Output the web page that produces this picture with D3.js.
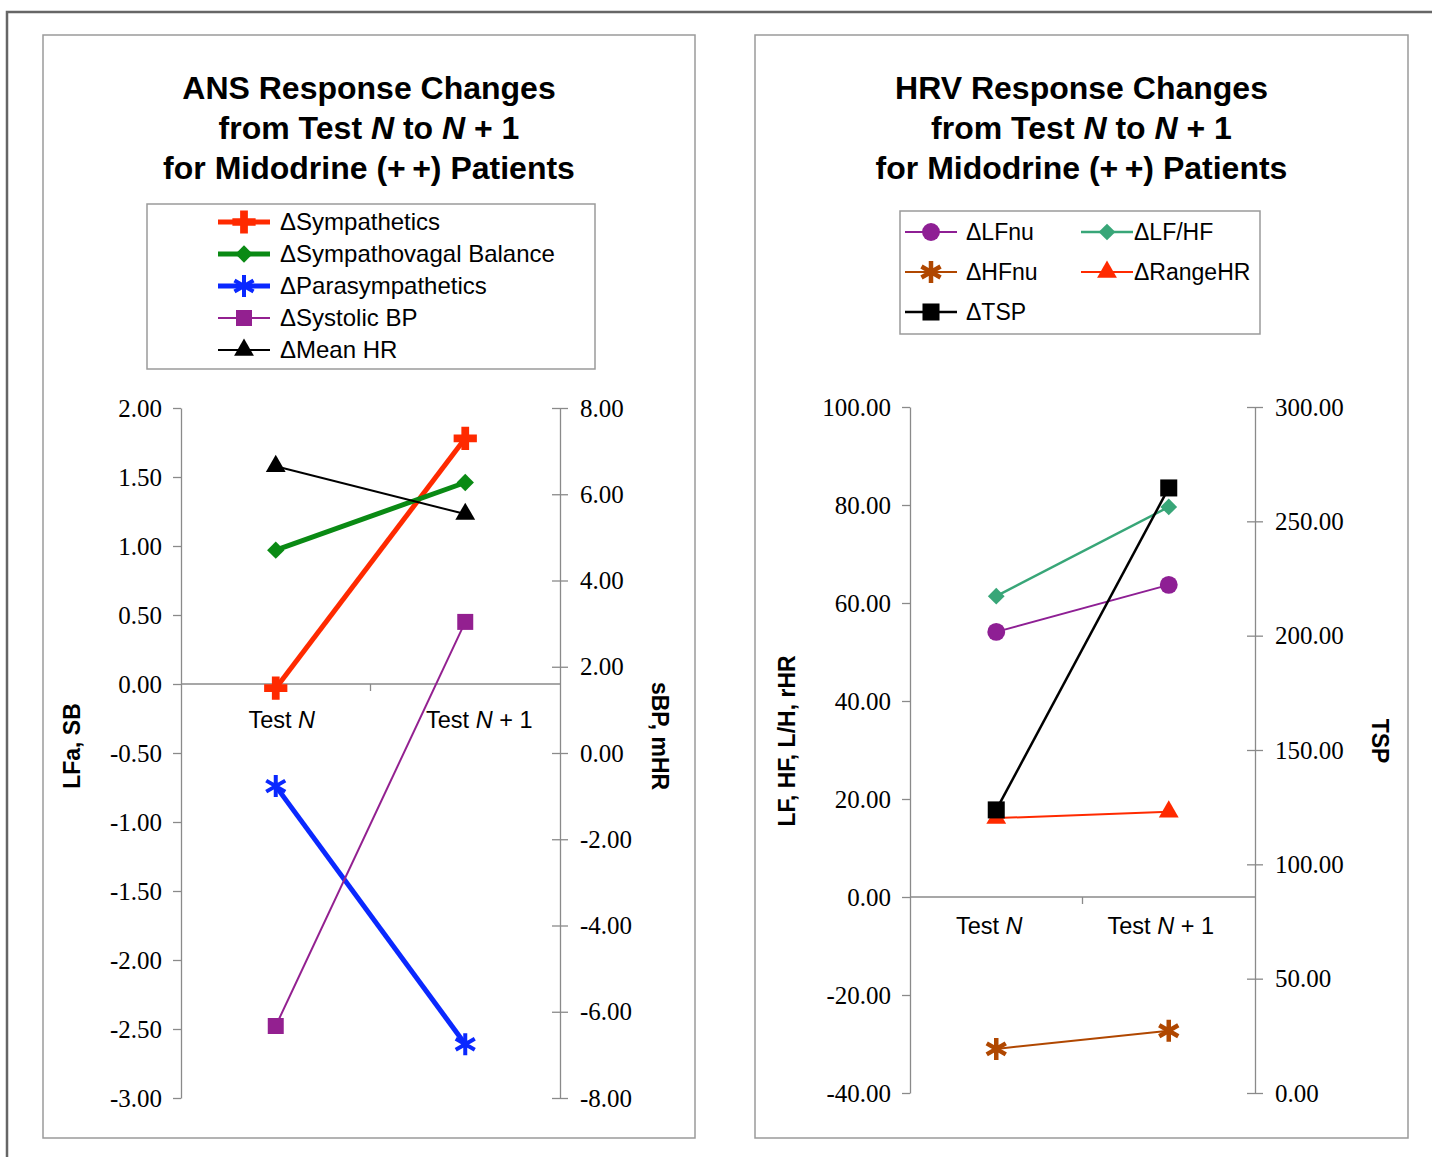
<!DOCTYPE html>
<html>
<head>
<meta charset="utf-8">
<script src="https://cdn.jsdelivr.net/npm/d3@7"></script>
<style>
  body { margin: 0; background: #fff; }
  svg { display: block; }
  .tick text { font-family: "Liberation Serif", "Times New Roman", "DejaVu Serif", serif !important; }
</style>
</head>
<body>
<div id="chart"></div>
<script>
const CATEGORIES = ["Test *N*", "Test *N* + 1"];

// ANS panel (left axis: LFa, SB — right axis: sBP, mHR)
const ANS_SYMPATHETICS      = [-0.03, 1.78];
const ANS_SYMPATHOVAGAL     = [0.97, 1.46];
const ANS_PARASYMPATHETICS  = [-0.74, -2.61];
const ANS_SYSTOLIC_BP       = [-6.33, 3.04];
const ANS_MEAN_HR           = [6.65, 5.54];
const ANS_LEFT_TICKS  = [-3, -2.5, -2, -1.5, -1, -0.5, 0, 0.5, 1, 1.5, 2];
const ANS_RIGHT_TICKS = [-8, -6, -4, -2, 0, 2, 4, 6, 8];

// HRV panel (left axis: LF, HF, L/H, rHR — right axis: TSP)
const HRV_LFNU    = [54.1, 63.7];
const HRV_LFHF    = [61.4, 79.6];
const HRV_HFNU    = [-31.0, -27.3];
const HRV_RANGEHR = [16.1, 17.4];
const HRV_TSP     = [123.8, 264.6];
const HRV_LEFT_TICKS  = [-40, -20, 0, 20, 40, 60, 80, 100];
const HRV_RIGHT_TICKS = [0, 50, 100, 150, 200, 250, 300];

const SANS  = "'Liberation Sans', Arial, Helvetica, sans-serif";
const SERIF = "'Liberation Serif', 'Times New Roman', 'DejaVu Serif', serif";
const AXIS_COLOR = "#8a8a8a";

const svg = d3.select("#chart").append("svg")
  .attr("width", 1432).attr("height", 1157);

// outer figure frame (top + left edges)
svg.append("path")
  .attr("d", "M7,1157 V12 H1432")
  .attr("fill", "none").attr("stroke", "#666").attr("stroke-width", 2.5);

// text with *italic* parts
function richText(sel, str) {
  str.split("*").forEach((part, i) => {
    if (!part) return;
    sel.append("tspan").attr("font-style", i % 2 ? "italic" : "normal").text(part);
  });
  return sel;
}

// asterisk marker path (vertical + two diagonals)
function asteriskPath(r) {
  const a = Math.PI / 6;
  const dx = r * Math.cos(a), dy = r * Math.sin(a);
  return `M0,${-r}V${r}M${-dx},${-dy}L${dx},${dy}M${-dx},${dy}L${dx},${-dy}`;
}

function drawMarker(g, s, x, y) {
  const m = g.append("path").attr("transform", `translate(${x},${y})`);
  if (s.marker === "asterisk") {
    m.attr("d", asteriskPath(s.size)).attr("fill", "none")
      .attr("stroke", s.color).attr("stroke-width", s.markerStroke);
  } else if (s.marker === "diamond") {
    m.attr("d", d3.symbol(d3.symbolSquare, s.size)())
      .attr("transform", `translate(${x},${y}) rotate(45)`)
      .attr("fill", s.color);
  } else {
    const type = { cross: d3.symbolCross, square: d3.symbolSquare,
                   triangle: d3.symbolTriangle, circle: d3.symbolCircle }[s.marker];
    m.attr("d", d3.symbol(type, s.size)()).attr("fill", s.color);
  }
}

function drawPanel(p) {
  const g = svg.append("g");

  // panel box
  g.append("rect")
    .attr("x", p.box[0]).attr("y", p.box[1])
    .attr("width", p.box[2]).attr("height", p.box[3])
    .attr("fill", "#fff").attr("stroke", "#9a9a9a").attr("stroke-width", 1.5);

  // title
  const cx = p.box[0] + p.box[2] / 2;
  p.title.forEach((line, i) => {
    richText(g.append("text")
      .attr("x", cx).attr("y", 99 + i * 40)
      .attr("text-anchor", "middle")
      .attr("font-family", SANS).attr("font-weight", "bold").attr("font-size", "32px")
      .attr("fill", "#000"), line);
  });

  // legend
  const lg = p.legend;
  g.append("rect")
    .attr("x", lg.x).attr("y", lg.y).attr("width", lg.w).attr("height", lg.h)
    .attr("fill", "#fff").attr("stroke", "#9a9a9a").attr("stroke-width", 1.5);
  p.series.forEach((s, i) => {
    const col = i % lg.cols, row = Math.floor(i / lg.cols);
    const lx = lg.itemX[col], ly = lg.firstY + row * lg.rowH;
    g.append("line")
      .attr("x1", lx).attr("x2", lx + lg.lineLen)
      .attr("y1", ly).attr("y2", ly)
      .attr("stroke", s.color).attr("stroke-width", s.width);
    drawMarker(g, s, lx + lg.lineLen / 2, ly);
    g.append("text")
      .attr("x", lx + lg.lineLen + lg.gap[col]).attr("y", ly).attr("dy", "0.35em")
      .attr("font-family", SANS).attr("font-size", lg.fontSize).attr("fill", "#000")
      .text("\u0394" + s.label);
  });

  // scales
  const yL = d3.scaleLinear().domain(d3.extent(p.leftTicks)).range([p.plot.bottom, p.plot.top]);
  const yR = d3.scaleLinear().domain(d3.extent(p.rightTicks)).range([p.plot.bottom, p.plot.top]);
  const x = d3.scaleBand().domain(CATEGORIES).range([p.plot.left, p.plot.right]);

  // left axis
  const axL = g.append("g")
    .attr("transform", `translate(${p.plot.left},0)`)
    .call(d3.axisLeft(yL).tickValues(p.leftTicks).tickFormat((d) => d.toFixed(2))
      .tickSizeInner(8).tickSizeOuter(0).tickPadding(11));
  // right axis (ticks cross the line)
  const axR = g.append("g")
    .attr("transform", `translate(${p.plot.right},0)`)
    .call(d3.axisRight(yR).tickValues(p.rightTicks).tickFormat((d) => d.toFixed(2))
      .tickSizeInner(8).tickSizeOuter(0).tickPadding(12));
  axR.selectAll(".tick line").attr("x1", -8);
  [axL, axR].forEach((ax) => {
    ax.attr("font-family", SERIF).attr("font-size", 25);
    ax.select(".domain").attr("stroke", AXIS_COLOR).attr("stroke-width", 1.3);
    ax.selectAll(".tick line").attr("stroke", AXIS_COLOR).attr("stroke-width", 1.3);
    ax.selectAll(".tick text")
      .style("font-family", SERIF).style("font-size", "25px").attr("fill", "#000");
  });

  // category axis at zero
  const y0 = yL(0);
  g.append("line")
    .attr("x1", p.plot.left).attr("x2", p.plot.right)
    .attr("y1", y0).attr("y2", y0)
    .attr("stroke", AXIS_COLOR).attr("stroke-width", 1.3);
  g.append("line")
    .attr("x1", x(CATEGORIES[1])).attr("x2", x(CATEGORIES[1]))
    .attr("y1", y0).attr("y2", y0 + 7)
    .attr("stroke", AXIS_COLOR).attr("stroke-width", 1.3);
  CATEGORIES.forEach((c, i) => {
    richText(g.append("text")
      .attr("x", x(c) + x.bandwidth() / 2 + p.catShift[i]).attr("y", y0 + p.catDy)
      .attr("text-anchor", "middle")
      .attr("font-family", SANS).attr("font-size", "23.5px").attr("fill", "#000"), c);
  });

  // axis titles
  g.append("text")
    .attr("transform", `translate(${p.leftTitle.x},${p.leftTitle.y}) rotate(-90)`)
    .attr("text-anchor", "middle").attr("dy", "0.35em")
    .attr("font-family", SANS).attr("font-weight", "bold").attr("font-size", "23px")
    .text(p.leftTitle.text);
  g.append("text")
    .attr("transform", `translate(${p.rightTitle.x},${p.rightTitle.y}) rotate(90)`)
    .attr("text-anchor", "middle").attr("dy", "0.35em")
    .attr("font-family", SANS).attr("font-weight", "bold").attr("font-size", "23px")
    .text(p.rightTitle.text);

  // series
  const cxOf = (i) => x(CATEGORIES[i]) + x.bandwidth() / 2;
  p.series.forEach((s) => {
    const y = s.axis === "right" ? yR : yL;
    const pts = s.values.map((v, i) => [cxOf(i), y(v)]);
    g.append("path")
      .attr("d", d3.line()(pts))
      .attr("fill", "none").attr("stroke", s.color).attr("stroke-width", s.width);
  });
  p.series.forEach((s) => {
    const y = s.axis === "right" ? yR : yL;
    s.values.forEach((v, i) => drawMarker(g, s, cxOf(i), y(v)));
  });
}

drawPanel({
  box: [43, 35, 652, 1103],
  title: ["ANS Response Changes", "from Test *N* to *N* + 1", "for Midodrine (+\u2009+) Patients"],
  legend: { x: 147, y: 204, w: 448, h: 165, cols: 1, itemX: [218], firstY: 222, rowH: 32,
            lineLen: 52, gap: [10], fontSize: "24px" },
  plot: { left: 181, right: 560, top: 408, bottom: 1098 },
  leftTicks: ANS_LEFT_TICKS, rightTicks: ANS_RIGHT_TICKS,
  catShift: [6, 14], catDy: 44,
  leftTitle: { text: "LFa, SB", x: 72, y: 746 },
  rightTitle: { text: "sBP, mHR", x: 660, y: 736 },
  series: [
    { label: "Sympathetics",        values: ANS_SYMPATHETICS,     axis: "left",  color: "#ff2a00", width: 5,   marker: "cross",    size: 300 },
    { label: "Sympathovagal Balance", values: ANS_SYMPATHOVAGAL,  axis: "left",  color: "#0a8a14", width: 5,   marker: "diamond",  size: 150 },
    { label: "Parasympathetics",    values: ANS_PARASYMPATHETICS, axis: "left",  color: "#0a28ff", width: 5,   marker: "asterisk", size: 11, markerStroke: 4 },
    { label: "Systolic BP",         values: ANS_SYSTOLIC_BP,      axis: "right", color: "#932090", width: 2,   marker: "square",   size: 256 },
    { label: "Mean HR",             values: ANS_MEAN_HR,          axis: "right", color: "#000000", width: 2,   marker: "triangle", size: 170 },
  ],
});

drawPanel({
  box: [755, 35, 653, 1103],
  title: ["HRV Response Changes", "from Test *N* to *N* + 1", "for Midodrine (+\u2009+) Patients"],
  legend: { x: 900, y: 211, w: 360, h: 123, cols: 2, itemX: [905, 1081], firstY: 232, rowH: 40,
            lineLen: 52, gap: [9, 1], fontSize: "23px" },
  plot: { left: 910, right: 1255, top: 407, bottom: 1093 },
  leftTicks: HRV_LEFT_TICKS, rightTicks: HRV_RIGHT_TICKS,
  catShift: [-7, -8], catDy: 37,
  leftTitle: { text: "LF, HF, L/H, rHR", x: 787, y: 741 },
  rightTitle: { text: "TSP", x: 1380, y: 741 },
  series: [
    { label: "LFnu",    values: HRV_LFNU,    axis: "left",  color: "#8e1f94", width: 2,   marker: "circle",   size: 250 },
    { label: "LF/HF",   values: HRV_LFHF,    axis: "left",  color: "#38a678", width: 2.5, marker: "diamond",  size: 140 },
    { label: "HFnu",    values: HRV_HFNU,    axis: "left",  color: "#b04700", width: 2,   marker: "asterisk", size: 11, markerStroke: 4.5 },
    { label: "RangeHR", values: HRV_RANGEHR, axis: "left",  color: "#ff2a00", width: 2,   marker: "triangle", size: 170 },
    { label: "TSP",     values: HRV_TSP,     axis: "right", color: "#000000", width: 2.5, marker: "square",   size: 290 },
  ],
});
</script>
</body>
</html>
